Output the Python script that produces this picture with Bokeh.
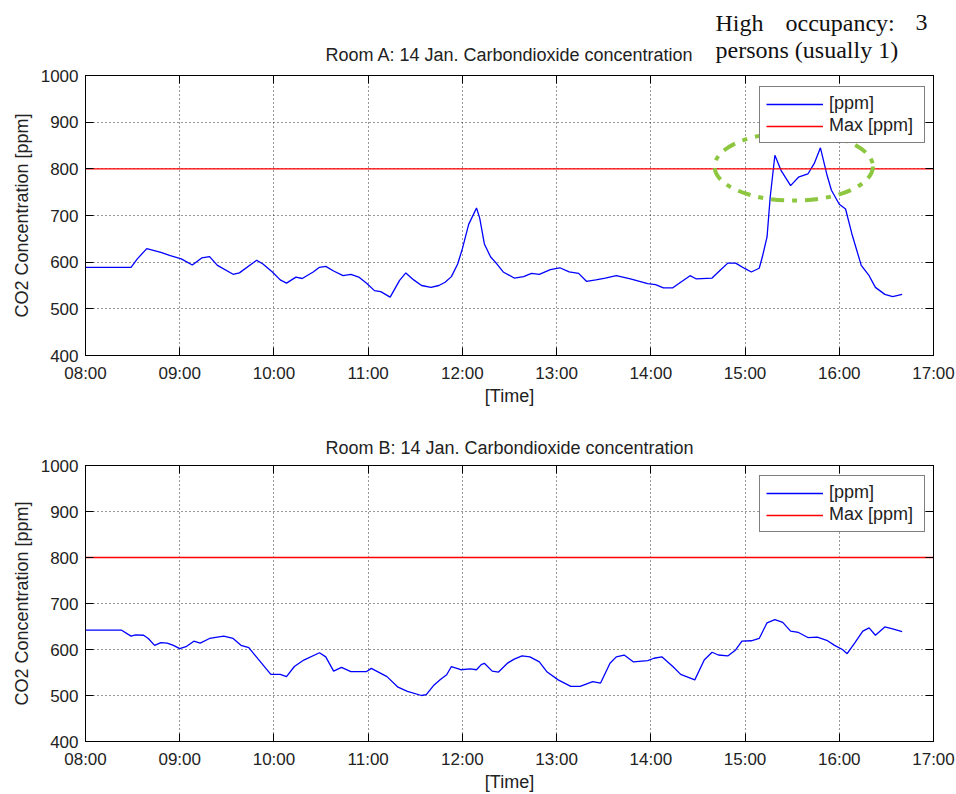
from bokeh.plotting import figure
from bokeh.models import FixedTicker, Legend, LegendItem, Label, Range1d, LinearAxis
from bokeh.layouts import column
from bokeh.embed import file_html
from bokeh.resources import INLINE

# ---------------- data ----------------
tick_labels = ["08:00", "09:00", "10:00", "11:00", "12:00", "13:00",
               "14:00", "15:00", "16:00", "17:00"]
y_ticks = [400, 500, 600, 700, 800, 900, 1000]
max_ppm = 800

room_a_title = "Room A: 14 Jan. Carbondioxide concentration"
room_b_title = "Room B: 14 Jan. Carbondioxide concentration"

room_a_time = ["08:00", "08:29", "08:33", "08:39", "08:48", "08:54", "09:01", "09:08", "09:14", "09:19",
               "09:24", "09:34", "09:38", "09:49", "09:53", "09:59", "10:04", "10:08", "10:14", "10:18",
               "10:25", "10:29", "10:33", "10:38", "10:44", "10:49", "10:54", "10:59", "11:04", "11:08",
               "11:14", "11:20", "11:24", "11:29", "11:34", "11:40", "11:45", "11:49", "11:53", "11:57",
               "12:00", "12:04", "12:09", "12:11", "12:14", "12:18", "12:21", "12:26", "12:33", "12:39",
               "12:44", "12:49", "12:56", "13:02", "13:08", "13:14", "13:19", "13:25", "13:31", "13:38",
               "13:47", "13:58", "14:03", "14:08", "14:14", "14:19", "14:25", "14:29", "14:39", "14:44",
               "14:49", "14:54", "15:00", "15:04", "15:09", "15:11", "15:14", "15:16", "15:19", "15:23",
               "15:29", "15:34", "15:40", "15:44", "15:48", "15:52", "15:55", "16:00", "16:04", "16:08",
               "16:14", "16:19", "16:23", "16:29", "16:34", "16:40"]
room_a_ppm = [589, 589, 607, 629, 621, 614, 607, 594, 609, 612,
              593, 574, 577, 604, 596, 579, 562, 555, 568, 565,
              579, 589, 591, 581, 571, 574, 568, 555, 539, 537,
              525, 561, 577, 562, 550, 546, 550, 557, 569, 596,
              629, 681, 716, 695, 639, 611, 600, 579, 566, 569,
              576, 574, 584, 588, 579, 576, 559, 562, 566, 571,
              564, 554, 552, 545, 545, 557, 571, 564, 566, 582,
              598, 598, 586, 579, 587, 611, 654, 739, 829, 796,
              764, 782, 789, 811, 845, 789, 754, 724, 714, 661,
              593, 571, 546, 531, 526, 531]

room_b_time = ["08:00", "08:23", "08:29", "08:32", "08:37", "08:40", "08:44", "08:48", "08:52", "08:56",
               "09:00", "09:04", "09:09", "09:13", "09:19", "09:24", "09:28", "09:34", "09:39", "09:44",
               "09:50", "09:58", "10:04", "10:08", "10:13", "10:19", "10:29", "10:33", "10:38", "10:43",
               "10:49", "10:59", "11:02", "11:12", "11:19", "11:25", "11:34", "11:37", "11:42", "11:46",
               "11:50", "11:53", "11:59", "12:05", "12:09", "12:12", "12:14", "12:19", "12:23", "12:29",
               "12:33", "12:38", "12:43", "12:49", "12:54", "13:01", "13:09", "13:15", "13:23", "13:28",
               "13:34", "13:38", "13:43", "13:49", "13:58", "14:02", "14:07", "14:14", "14:19", "14:28",
               "14:34", "14:39", "14:43", "14:49", "14:54", "14:58", "15:04", "15:09", "15:14", "15:19",
               "15:24", "15:29", "15:34", "15:40", "15:46", "15:52", "15:57", "16:02", "16:05", "16:10",
               "16:15", "16:19", "16:23", "16:29", "16:34", "16:40"]
room_b_ppm = [642, 642, 629, 632, 631, 624, 609, 615, 614, 609,
              602, 606, 618, 614, 624, 627, 629, 624, 609, 604,
              579, 546, 546, 541, 563, 577, 593, 584, 553, 561,
              552, 552, 559, 541, 518, 509, 500, 502, 523, 535,
              545, 563, 556, 558, 556, 567, 570, 553, 551, 571,
              579, 586, 584, 573, 551, 534, 520, 520, 530, 527,
              570, 584, 588, 573, 576, 581, 584, 563, 546, 534,
              577, 594, 588, 586, 599, 618, 619, 624, 658, 665,
              659, 640, 637, 626, 627, 620, 609, 600, 591, 615,
              640, 647, 631, 649, 645, 639]

# highlighted high-occupancy period (Room A)
occ_center_time = "15:31"
occ_center_ppm = 805
occ_width_hours = 1.68
occ_height_ppm = 146
occ_text_line1 = ["High", "occupancy:", "3"]
occ_text_line2 = "persons (usually 1)"

FONT = "Liberation Sans"
SERIF = "Liberation Serif"
TXT = "#222222"


def to_hours(s):
    h, m = s.split(":")
    return int(h) + int(m) / 60.0


def make_fig(title, times, ppm, height, border_top, border_bottom, legend_y):
    x = [to_hours(t) for t in times]
    tick_x = [to_hours(t) for t in tick_labels]
    kw = dict(title=title) if title else {}
    p = figure(width=956, height=height, output_backend="svg", toolbar_location=None,
               x_range=Range1d(tick_x[0], tick_x[-1]),
               y_range=Range1d(y_ticks[0], y_ticks[-1]),
               min_border_left=85, min_border_right=23,
               min_border_top=border_top, min_border_bottom=border_bottom,
               x_axis_label="[Time]", y_axis_label="CO2 Concentration [ppm]", **kw)
    if title:
        p.title.align = "center"
        p.title.text_font = FONT
        p.title.text_font_size = "18px"
        p.title.text_font_style = "normal"
        p.title.text_color = TXT
        p.title.standoff = 16

    p.outline_line_color = "black"
    p.outline_line_width = 1
    p.background_fill_color = "white"
    p.border_fill_color = "white"

    p.xaxis.ticker = FixedTicker(ticks=tick_x)
    p.xaxis.major_label_overrides = {int(round(t)): l for t, l in zip(tick_x, tick_labels)}
    p.yaxis.ticker = FixedTicker(ticks=y_ticks)
    for ax in (p.xaxis, p.yaxis):
        ax.major_tick_in = 8
        ax.major_tick_out = 0
        ax.minor_tick_line_color = None
        ax.axis_line_color = "black"
        ax.major_tick_line_color = "black"
        ax.major_label_text_font = FONT
        ax.major_label_text_font_size = "17px"
        ax.major_label_text_color = TXT
        ax.axis_label_text_font = FONT
        ax.axis_label_text_font_size = "18px"
        ax.axis_label_text_font_style = "normal"
        ax.axis_label_text_color = TXT
    p.xaxis.major_label_standoff = 8
    p.xaxis.axis_label_standoff = 0
    p.yaxis.major_label_standoff = 7
    p.yaxis.axis_label_standoff = 6

    # mirrored tick marks on the right and top edges (boxed plot), no labels
    for side, tk in (("right", y_ticks), ("above", tick_x)):
        p.add_layout(LinearAxis(ticker=FixedTicker(ticks=tk), major_tick_in=8, major_tick_out=0,
                                minor_tick_line_color=None, axis_line_color="black",
                                major_label_text_font_size="1px", major_label_text_color=None,
                                major_label_standoff=0), side)

    for g in (p.xgrid, p.ygrid):
        g.grid_line_color = "black"
        g.grid_line_dash = "1 3"
        g.grid_line_alpha = 0.8
    p.ygrid.ticker = FixedTicker(ticks=y_ticks)
    p.xgrid.ticker = FixedTicker(ticks=tick_x)

    r1 = p.line(x, ppm, line_color="#0000ff", line_width=1.3)
    r2 = p.line([tick_x[0], tick_x[-1]], [max_ppm, max_ppm], line_color="#ff0000", line_width=1.3)

    legend = Legend(items=[LegendItem(label="[ppm]", renderers=[r1]),
                           LegendItem(label="Max [ppm]", renderers=[r2])],
                    location=(674, legend_y), margin=0, padding=6, spacing=1,
                    glyph_width=57, glyph_height=20, label_standoff=6, label_width=89,
                    label_text_font=FONT, label_text_font_size="18px",
                    label_text_color=TXT,
                    border_line_color="black", border_line_width=1,
                    background_fill_color="white", background_fill_alpha=1)
    p.add_layout(legend)
    return p


# header strip (its frame is aligned with the charts' frames: x=0 is the frame's left edge)
header = figure(width=956, height=68, output_backend="svg", toolbar_location=None,
                x_range=Range1d(0, 1), y_range=Range1d(0, 1),
                x_axis_location=None, y_axis_location=None, min_border=0,
                outline_line_color=None)
header.grid.visible = False
header.add_layout(Label(x=424, y=14, x_units="screen", y_units="screen", text=room_a_title,
                        text_font=FONT, text_font_size="18px", text_color=TXT,
                        text_align="center", text_baseline="alphabetic"))
for txt, xs in zip(occ_text_line1, (630, 700, 830)):
    header.add_layout(Label(x=xs, y=46, x_units="screen", y_units="screen", text=txt,
                            text_font=SERIF, text_font_size="24px",
                            text_color="#111111", text_baseline="alphabetic"))
header.add_layout(Label(x=630, y=19, x_units="screen", y_units="screen", text=occ_text_line2,
                        text_font=SERIF, text_font_size="24px",
                        text_color="#111111", text_baseline="alphabetic"))

p1 = make_fig(None, room_a_time, room_a_ppm, 342, 7, 55, 212)
p1.ellipse(x=[to_hours(occ_center_time)], y=[occ_center_ppm],
           width=occ_width_hours, height=occ_height_ppm,
           fill_color=None, line_color="#8dc63f", line_width=4, line_dash="13 8 5 8")

p2 = make_fig(room_b_title, room_b_time, room_b_ppm, 384, 55, 50, 209)

layout = column(header, p1, p2)
open("out.html", "w").write(file_html(layout, INLINE))
